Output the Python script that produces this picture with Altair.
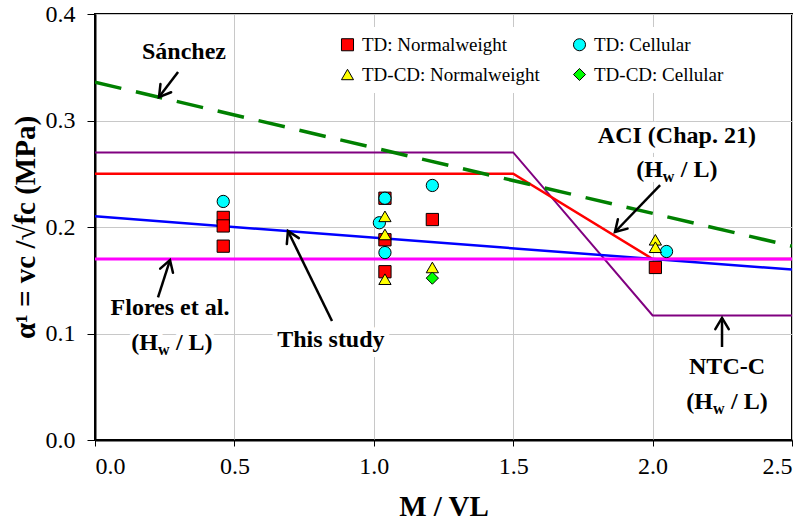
import math
import altair as alt
import pandas as pd

# ---------------- data ----------------
series_names = ["TD: Normalweight", "TD: Cellular", "TD-CD: Normalweight", "TD-CD: Cellular"]
series_colors = ["#FF0000", "#00FFFF", "#FFFF00", "#00FF00"]
series_shapes = ["square", "circle", "triangle-up", "diamond"]
# legend entries are laid out column by column
legend_order = [0, 2, 1, 3]

td_nw_x = [0.46, 0.46, 0.46, 1.04, 1.04, 1.04, 1.21, 2.01]
td_nw_y = [0.209, 0.201, 0.182, 0.227, 0.188, 0.158, 0.207, 0.162]
td_cel_x = [0.46, 1.04, 1.02, 1.04, 1.21, 2.05]
td_cel_y = [0.224, 0.227, 0.204, 0.176, 0.239, 0.177]
tdcd_nw_x = [1.04, 1.04, 1.04, 1.21, 2.01, 2.01]
tdcd_nw_y = [0.210, 0.193, 0.151, 0.162, 0.188, 0.181]
tdcd_cel_x = [1.21]
tdcd_cel_y = [0.152]

# design expressions
sanchez_x = [0.0, 2.5]
sanchez_y = [0.336, 0.182]
ntc_x = [0.0, 1.5, 2.0, 2.5]
ntc_y = [0.27, 0.27, 0.117, 0.117]
aci_x = [0.0, 1.5, 2.0, 2.5]
aci_y = [0.25, 0.25, 0.17, 0.17]
flores_x = [0.0, 2.5]
flores_y = [0.17, 0.17]
study_x = [0.0, 2.5]
study_y = [0.21, 0.16]

# annotation labels (data coordinates)
label_text = ["Sánchez", "ACI (Chap. 21)", "Flores et al.", "This study", "NTC-C"]
label_x = [0.319, 2.087, 0.269, 0.846, 2.267]
label_y = [0.364, 0.2854, 0.124, 0.094, 0.0685]

# "(Hw / L)" sub-labels
hw_x = [2.087, 0.276, 2.267]
hw_y = [0.2535, 0.091, 0.0357]

# arrows: tail -> tip
arrow_x = [0.298, 2.027, 0.850, 0.226, 2.249]
arrow_y = [0.3455, 0.2394, 0.1117, 0.134, 0.0873]
arrow_x2 = [0.2296, 1.865, 0.692, 0.269, 2.249]
arrow_y2 = [0.322, 0.1953, 0.1962, 0.169, 0.1146]

# ---------------- layout ----------------
W, H = 697, 426
XMAX, YMAX = 2.5, 0.4
FONT = "Liberation Serif, Times New Roman, serif"

xscale = alt.Scale(domain=[0, XMAX], nice=False)
yscale = alt.Scale(domain=[0, YMAX], nice=False)
xaxis = alt.Axis(values=[0, 0.5, 1.0, 1.5, 2.0, 2.5], format=".1f", title="M / VL",
                 titleFontSize=29, titleFontWeight="bold", titlePadding=14,
                 labelFontSize=24, labelPadding=8, tickSize=6)
yaxis = alt.Axis(values=[0, 0.1, 0.2, 0.3, 0.4], format=".1f",
                 title="α¹ = vc /√fc (MPa)",
                 titleFontSize=29, titleFontWeight="bold", titlePadding=5,
                 labelFontSize=24, labelPadding=12, tickSize=8)

X = alt.X("x:Q", scale=xscale, axis=xaxis)
Y = alt.Y("y:Q", scale=yscale, axis=yaxis)


def curve(xs, ys):
    return pd.DataFrame({"x": xs, "y": ys})


def line_layer(xs, ys, color, width, dash=None):
    kw = dict(color=color, strokeWidth=width, clip=True)
    if dash:
        kw["strokeDash"] = dash
    return alt.Chart(curve(xs, ys)).mark_line(**kw).encode(x=X, y=Y)


ntc_line = line_layer(ntc_x, ntc_y, "#800080", 2)
aci_line = line_layer(aci_x, aci_y, "#FF0000", 2.5)
sanchez_line = line_layer(sanchez_x, sanchez_y, "#008000", 3.5, [27, 15])
study_line = line_layer(study_x, study_y, "#0000FF", 2.5)
flores_line = line_layer(flores_x, flores_y, "#FF00FF", 3)

# test points
rows = []
for name, xs, ys in zip(series_names,
                        [td_nw_x, td_cel_x, tdcd_nw_x, tdcd_cel_x],
                        [td_nw_y, td_cel_y, tdcd_nw_y, tdcd_cel_y]):
    for xv, yv in zip(xs, ys):
        rows.append({"x": xv, "y": yv, "series": name, "order": series_names.index(name)})
points_df = pd.DataFrame(rows)

leg_domain = [series_names[i] for i in legend_order]
leg_colors = [series_colors[i] for i in legend_order]
leg_shapes = [series_shapes[i] for i in legend_order]
leg_outline = ["black"] * len(leg_domain)

legend = alt.Legend(title=None, orient="none", legendX=235, legendY=13, columns=2,
                    columnPadding=30, rowPadding=10, labelFont=FONT, labelFontSize=19,
                    labelColor="black", labelOffset=5, labelLimit=400, symbolSize=145,
                    symbolStrokeWidth=1, symbolOpacity=1,
                    fillColor="white", padding=8)

points = alt.Chart(points_df).mark_point(filled=True, size=150, opacity=1,
                                         strokeWidth=1).encode(
    x=X, y=Y,
    fill=alt.Fill("series:N", scale=alt.Scale(domain=leg_domain, range=leg_colors),
                  legend=legend),
    shape=alt.Shape("series:N", scale=alt.Scale(domain=leg_domain, range=leg_shapes),
                    legend=legend),
    stroke=alt.Stroke("series:N", scale=alt.Scale(domain=leg_domain, range=leg_outline),
                      legend=legend),
    order=alt.Order("order:Q"),
)

# labels with white halo (hides gridlines behind them)
labels_df = pd.DataFrame({"x": label_x, "y": label_y, "t": label_text})
label_style = dict(font=FONT, fontSize=24, fontWeight="bold", align="center", baseline="middle")
label_halo = alt.Chart(labels_df).mark_text(stroke="white", strokeWidth=10, strokeJoin="round",
                                            fill="white", **label_style).encode(x=X, y=Y, text="t:N")
label_text_layer = alt.Chart(labels_df).mark_text(color="black", **label_style).encode(
    x=X, y=Y, text="t:N")

hw_df = pd.DataFrame({"x": hw_x, "y": hw_y})
hw_pieces = [
    dict(t="(H", align="right", dx=-14, dy=0, size=24),
    dict(t="w", align="left", dx=-14, dy=7, size=16),
    dict(t="/ L)", align="left", dx=4, dy=0, size=24),
]
hw_halos = []
hw_texts = []
for p in hw_pieces:
    base = dict(font=FONT, fontSize=p["size"], fontWeight="bold", align=p["align"],
                baseline="middle", dx=p["dx"], dy=p["dy"], text=p["t"])
    hw_halos.append(alt.Chart(hw_df).mark_text(stroke="white", strokeWidth=10, fill="white",
                                               strokeJoin="round", **base).encode(x=X, y=Y))
    hw_texts.append(alt.Chart(hw_df).mark_text(color="black", **base).encode(x=X, y=Y))

# arrows
sx, sy = W / XMAX, H / YMAX
angles = []
for x1, y1, x2, y2 in zip(arrow_x, arrow_y, arrow_x2, arrow_y2):
    dxp = (x2 - x1) * sx
    dyp = -(y2 - y1) * sy
    angles.append(math.degrees(math.atan2(dxp, -dyp)) % 360)
arrows_df = pd.DataFrame({"x": arrow_x, "y": arrow_y, "x2": arrow_x2, "y2": arrow_y2,
                          "angle": angles})
arrow_shafts = alt.Chart(arrows_df).mark_rule(color="black", strokeWidth=2.5).encode(
    x=X, y=Y, x2="x2:Q", y2="y2:Q")
arrow_heads = alt.Chart(arrows_df).mark_point(
    shape="M -0.6 1 L 0 0 L 0.6 1", filled=False, size=500, opacity=1,
    stroke="black", strokeWidth=2.5, strokeCap="round", strokeJoin="miter").encode(
    x=alt.X("x2:Q", scale=xscale, axis=xaxis),
    y=alt.Y("y2:Q", scale=yscale, axis=yaxis),
    angle=alt.Angle("angle:Q", scale=None),
)

chart = alt.layer(
    label_halo, *hw_halos,
    ntc_line, aci_line, sanchez_line, study_line, flores_line,
    arrow_shafts, arrow_heads,
    points,
    label_text_layer, *hw_texts,
).properties(
    width=W, height=H,
    autosize=alt.AutoSizeParams(type="none"),
    padding={"left": 95, "top": 14, "right": 15, "bottom": 86},
    background="white",
).configure(
    font=FONT,
).configure_view(
    stroke="black", strokeWidth=2,
).configure_axis(
    labelFont=FONT, titleFont=FONT, labelColor="black", titleColor="black",
    domainColor="black", domainWidth=2, tickColor="black", tickWidth=1,
    gridColor="#c8c8c8", gridWidth=1, grid=True,
)

chart.save("out.html", embed_options={"renderer": "svg", "actions": False})
